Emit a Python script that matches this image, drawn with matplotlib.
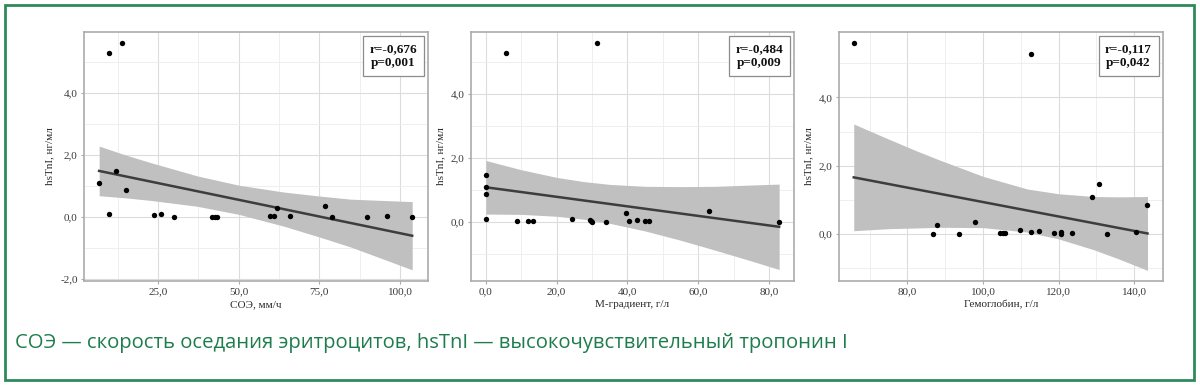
import numpy as np
import matplotlib
matplotlib.use('Agg')
import matplotlib.pyplot as plt
from matplotlib.patches import Rectangle
from matplotlib.ticker import FuncFormatter, MultipleLocator
from matplotlib.transforms import offset_copy

# points
soe_x = [6.7, 9.8, 13.9, 11.9, 14.9, 9.8, 23.8, 25.9, 29.9, 41.7, 42.6, 43.1,
         59.8, 60.8, 61.9, 65.8, 76.9, 78.8, 89.9, 95.9, 103.8]
soe_y = [1.09, 5.30, 5.60, 1.48, 0.86, 0.11, 0.06, 0.10, 0.02, 0.01, 0.02, 0.02,
         0.03, 0.05, 0.30, 0.05, 0.37, 0.00, 0.01, 0.04, 0.02]

mgr_x = [0.0, 0.0, 0.0, 0.0, 5.7, 31.3, 8.8, 11.9, 13.2, 24.3, 29.3, 29.7,
         30.1, 34.1, 39.5, 40.4, 42.7, 45.0, 46.1, 63.1, 82.9]
mgr_y = [1.47, 1.08, 0.86, 0.08, 5.29, 5.61, 0.03, 0.02, 0.02, 0.08, 0.05, 0.02,
         0.00, 0.00, 0.28, 0.03, 0.04, 0.01, 0.02, 0.35, 0.00]

hb_x = [65.8, 112.7, 86.8, 87.8, 93.7, 97.8, 104.6, 105.2, 105.8, 109.7, 112.8,
        114.7, 118.7, 120.7, 120.7, 123.6, 128.7, 130.7, 132.7, 140.5, 143.5]
hb_y = [5.59, 5.28, 0.01, 0.28, 0.00, 0.36, 0.03, 0.03, 0.04, 0.11, 0.05,
        0.10, 0.02, 0.06, 0.00, 0.02, 1.09, 1.47, 0.00, 0.06, 0.86]

# regression lines (ends) and confidence bands
soe_fit_x = [6.7, 103.8]
soe_fit_y = [1.49, -0.60]
soe_band_x = [6.7, 15, 22.6, 37.1, 50.0, 63.9, 75, 84.6, 94, 103.8]
soe_band_hi = [2.29, 2.00, 1.76, 1.33, 1.03, 0.81, 0.68, 0.58, 0.54, 0.50]
soe_band_lo = [0.69, 0.62, 0.54, 0.35, 0.09, -0.29, -0.64, -0.96, -1.32, -1.70]

mgr_fit_x = [0.0, 82.9]
mgr_fit_y = [1.08, -0.16]
mgr_band_x = [0, 10, 20, 27.5, 35, 45, 55, 65, 75, 82.9]
mgr_band_hi = [1.92, 1.63, 1.39, 1.26, 1.17, 1.11, 1.10, 1.11, 1.15, 1.18]
mgr_band_lo = [0.24, 0.23, 0.17, 0.08, -0.05, -0.29, -0.58, -0.90, -1.23, -1.50]

hb_fit_x = [65.8, 143.5]
hb_fit_y = [1.66, 0.02]
hb_band_x = [65.8, 75, 82.3, 88.2, 100, 111.7, 120, 129.4, 136, 143.5]
hb_band_hi = [3.22, 2.78, 2.44, 2.18, 1.69, 1.32, 1.18, 1.10, 1.09, 1.10]
hb_band_lo = [0.10, 0.16, 0.18, 0.20, 0.19, 0.06, -0.14, -0.46, -0.73, -1.06]

x_labels = ['СОЭ, мм/ч', 'М-градиент, г/л', 'Гемоглобин, г/л']
stats = ['r=-0,676\np=0,001', 'r=-0,484\np=0,009', 'r=-0,117\np=0,042']
x_ticks = [[25, 50, 75, 100], [0, 20, 40, 60, 80], [80, 100, 120, 140]]
y_ticks = [[-2, 0, 2, 4], [0, 2, 4], [0, 2, 4]]
caption = 'СОЭ — скорость оседания эритроцитов, hsTnI — высокочувствительный тропонин I'

panels = [
    (soe_x, soe_y, soe_fit_x, soe_fit_y, soe_band_x, soe_band_lo, soe_band_hi),
    (mgr_x, mgr_y, mgr_fit_x, mgr_fit_y, mgr_band_x, mgr_band_lo, mgr_band_hi),
    (hb_x, hb_y, hb_fit_x, hb_fit_y, hb_band_x, hb_band_lo, hb_band_hi),
]
xlims = [(2.0, 108.7), (-4.2, 87.1), (61.9, 147.6)]
ylims = [(-2.06, 5.97), (-1.86, 5.95), (-1.37, 5.91)]
lefts = [84, 471, 839]
rights = [428, 794, 1163]

W, H = 1200, 386
fig = plt.figure(figsize=(12, 3.86), dpi=100)
plt.rcParams['font.family'] = ['Liberation Serif', 'DejaVu Serif']

fmt = FuncFormatter(lambda v, p: ('%.1f' % v).replace('.', ','))

for i, (px, py, fx, fy, bx, blo, bhi) in enumerate(panels):
    ax = fig.add_axes([lefts[i] / W, (H - 281) / H, (rights[i] - lefts[i]) / W, 249 / H])

    ax.fill_between(bx, blo, bhi, color='#c0c0c0', lw=0, zorder=2)
    ax.plot(fx, fy, color='#3d3d3d', lw=1.8, zorder=3)
    ax.scatter(px, py, s=15, color='black', zorder=4, lw=0)

    ax.set_xlim(xlims[i])
    ax.set_ylim(ylims[i])
    ax.set_xticks(x_ticks[i])
    ax.set_yticks(y_ticks[i])
    step_x = x_ticks[i][1] - x_ticks[i][0]
    ax.xaxis.set_minor_locator(MultipleLocator(step_x / 2))
    ax.yaxis.set_minor_locator(MultipleLocator(1))
    ax.xaxis.set_major_formatter(fmt)
    ax.yaxis.set_major_formatter(fmt)
    ax.grid(True, which='major', color='#dcdcdc', lw=0.8, zorder=0)
    ax.grid(True, which='minor', color='#ececec', lw=0.6, zorder=0)
    ax.set_axisbelow(True)
    for sp in ax.spines.values():
        sp.set_color('#ababab')
        sp.set_linewidth(1.2)
    ax.tick_params(which='major', length=2.5, width=0.8, color='#ababab',
                   labelsize=8, labelcolor='#3a3a3a', pad=2)
    ax.tick_params(which='minor', length=0)
    ax.set_xlabel(x_labels[i], fontsize=8, color='#2a2a2a', labelpad=3)
    ax.set_ylabel('hsTnI, нг/мл', fontsize=8, color='#2a2a2a', labelpad=4)

    tr = offset_copy(ax.transAxes, fig=fig, x=-11, y=-11, units='dots')
    ax.text(1, 1, stats[i], transform=tr, ha='right', va='top',
            fontsize=9.5, fontweight='bold', linespacing=1.25, color='#111111',
            multialignment='center',
            bbox=dict(boxstyle='square,pad=0.5', fc='white', ec='#8c8c8c', lw=0.9),
            zorder=5)

fig.text(15 / W, 1 - 343 / H, caption, fontsize=14.6, color='#1e7d4c',
         family=['Open Sans', 'DejaVu Sans'], ha='left', va='center')

fig.patches.append(Rectangle((4.5 / W, 1 - 379.5 / H), (1193.5 - 4.5) / W, (379.5 - 4.5) / H,
                             transform=fig.transFigure, fill=False, ec='#2e8a5c', lw=2.0))

fig.savefig('out.png', dpi=100)
